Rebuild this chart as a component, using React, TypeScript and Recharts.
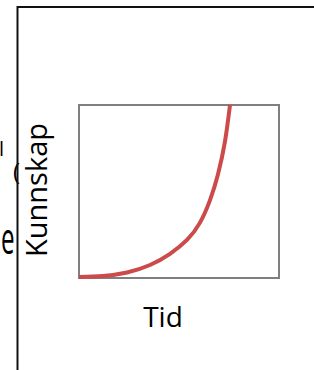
import { LineChart, Line, XAxis, YAxis, ReferenceArea } from "recharts";

// x runs 0..10 across the box, y 0..100 up the box
const tid = [0, 1.2, 2.4, 3.55, 4.55, 5.4, 6.05, 6.55, 6.95, 7.3, 7.55];
const kunnskap = [0.6, 1.2, 3.2, 7.5, 14, 22, 32, 45, 60, 79, 100];

const data = tid.map((t, i) => ({ tid: t, kunnskap: kunnskap[i] }));

const font = "'Open Sans', 'Noto Sans', sans-serif";

export default function App() {
  return (
    <div style={{ position: "absolute", left: 0, top: 0, width: 314, height: 370, background: "#fff", overflow: "hidden" }}>
      <LineChart width={314} height={370} data={data} margin={{ top: 105, right: 35, bottom: 92, left: 79 }}>
        <XAxis dataKey="tid" type="number" domain={[0, 10]} hide />
        <YAxis type="number" domain={[0, 100]} hide />
        <ReferenceArea x1={0} x2={10} y1={0} y2={100} fill="none" stroke="#7f7f7f" strokeWidth={2} ifOverflow="visible" />
        <Line
          type="natural"
          dataKey="kunnskap"
          stroke="#cc4a4a"
          strokeWidth={4}
          dot={false}
          isAnimationActive={false}
        />
      </LineChart>
      <svg width={314} height={370} style={{ position: "absolute", left: 0, top: 0, pointerEvents: "none" }}>
        {/* stray bits of text cut off at the left edge */}
        <text x={-1} y={156} fontFamily={font} fontSize={20} fill="#000">l</text>
        <text x={13} y={180} fontFamily={font} fontSize={24} fill="#000">(</text>
        <text x={1} y={254} fontFamily={font} fontSize={44} fill="#000" transform="translate(1 0) scale(0.55 1) translate(-1 0)">e</text>
        {/* outer frame */}
        <path d="M17.5 380 L17.5 7 L330 7" fill="none" stroke="#111" strokeWidth={2} />
        <text x={46.7} y={190} transform="rotate(-90 46.7 190)" textAnchor="middle" fontFamily={font} fontSize={29} fill="#000">Kunnskap</text>
        <text x={163} y={326.7} textAnchor="middle" fontFamily={font} fontSize={28} fill="#000">Tid</text>
      </svg>
    </div>
  );
}
